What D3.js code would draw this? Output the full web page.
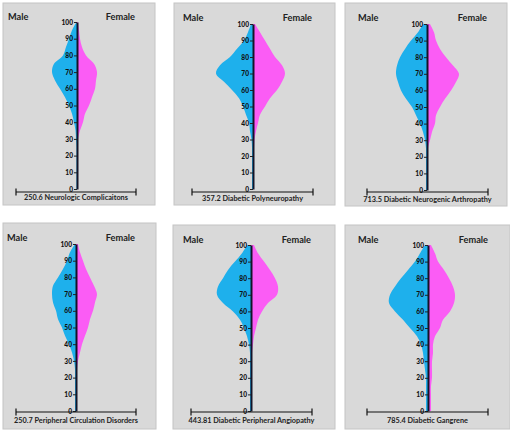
<!DOCTYPE html>
<html><head><meta charset="utf-8">
<script src="https://cdn.jsdelivr.net/npm/d3@7"></script>
<style>body{margin:0;background:#fff}svg{display:block}</style>
</head><body>
<script>
const ages = [0,5,10,15,20,25,30,35,40,45,50,55,60,65,70,75,80,85,90,95,100];
const yTicks = [0,10,20,30,40,50,60,70,80,90,100];
const titles = ["250.6 Neurologic Complicaitons","357.2 Diabetic Polyneuropathy","713.5 Diabetic Neurogenic Arthropathy",
  "250.7 Peripheral Circulation Disorders","443.81 Diabetic Peripheral Angiopathy","785.4 Diabetic Gangrene"];
const male1 =   [0.5,0.5,0.5,0.5,0.5,0.5,1,1.5,3,5,8,12,17,22,25,23,14,11,8,5,0.5];
const female1 = [0.5,0.5,0.5,0.5,0.5,0.5,1,3,6,8,12,15,18,19,20,17,9,5,3,2,1];
const male2 =   [1,1,1,1,1,1,1.5,3,4,7,10,14,21,29,37,33,23,16,9,5,2];
const female2 = [1,1,1,1,1,1,1.5,3,5,7,12,17,24,29,32,29,22,17,12,7,2];
const male3 =   [1,1,1,1,1,1,2,4,7,11,15,21,26,29,31,30,27,22,16,9,4];
const female3 = [1,1,1,1,1,1,3,5,8,9,13,18,24,29,32,26,19,13,9,7,3];
const male4 =   [1,1,1,1,1,1,2,4,7,11,14,18,20,23,24,23,18,13,9,6,1];
const female4 = [1,1,1,1,1,1,2,4,6,9,12,14,17,19,21,18,14,10,7,4,2];
const male5 =   [1,1,1,1,1,1,1,1,2,4,7,11,18,28,34,33,28,23,16,9,4];
const female5 = [1,1,1,1,1,1,1,1,2,3,5,7,11,17,26,27,24,19,13,7,3];
const male6 =   [2,2,2,2,2,3,4,5,7,11,18,25,33,39,38,33,27,20,13,8,3];
const female6 = [3,3,3,3,4,4,4,5,5,7,12,15,22,26,27,25,21,16,10,7,3];
const maleSeries = [male1,male2,male3,male4,male5,male6];
const femaleSeries = [female1,female2,female3,female4,female5,female6];

// layout: box, axis x, y of 0 and 100, bottom line
const layout = [
  {bx:3,by:3,bw:152,bh:202,ax:77,y0:189,y1:22,hy:192,hx1:16,hx2:136,ly:200,mx:8,fx:135,ty:20},
  {bx:174,by:3,bw:161,bh:202,ax:253,y0:189,y1:24,hy:192,hx1:192,hx2:313,ly:201,mx:183,fx:312,ty:21},
  {bx:345,by:3,bw:162,bh:203,ax:427,y0:190,y1:24,hy:192,hx1:367,hx2:488,ly:202,mx:358,fx:487,ty:21},
  {bx:3,by:223,bw:153,bh:206,ax:76,y0:411,y1:244,hy:412,hx1:16,hx2:136,ly:423,mx:7,fx:135,ty:241},
  {bx:173,by:225,bw:162,bh:204,ax:251,y0:411,y1:245,hy:412,hx1:191,hx2:312,ly:423,mx:183,fx:311,ty:243},
  {bx:345,by:225,bw:165,bh:204,ax:428,y0:411,y1:245,hy:412,hx1:367,hx2:488,ly:423,mx:358,fx:488,ty:243}
];

const svg = d3.select("body").append("svg").attr("width",510).attr("height",430);
const font = "Lato, 'Open Sans', sans-serif";

layout.forEach((L,i)=>{
  const g = svg.append("g");
  g.append("rect").attr("x",L.bx).attr("y",L.by).attr("width",L.bw).attr("height",L.bh)
    .attr("fill","#d9d9d9").attr("stroke","#c4c4c4").attr("stroke-width",1);
  const y = d3.scaleLinear().domain([0,100]).range([L.y0,L.y1]);
  const x = d3.scaleLinear().domain([-50,50]).range([L.ax-50,L.ax+50]);
  const male = ages.map((a,j)=>({a,v:maleSeries[i][j]}));
  const female = ages.map((a,j)=>({a,v:femaleSeries[i][j]}));
  const areaM = d3.area().y(d=>y(d.a)).x0(x(0)).x1(d=>x(-d.v)).curve(d3.curveCatmullRom);
  const areaF = d3.area().y(d=>y(d.a)).x0(x(0)).x1(d=>x(d.v)).curve(d3.curveCatmullRom);
  g.append("path").datum(male).attr("d",areaM).attr("fill","#1eb0ec");
  g.append("path").datum(female).attr("d",areaF).attr("fill","#fb5cf5");
  const ax = g.append("g").attr("transform",`translate(${L.ax},0)`)
    .call(d3.axisLeft(y).tickValues(yTicks).tickSize(3).tickSizeOuter(0).tickPadding(1));
  ax.select(".domain").attr("stroke","#141428").attr("stroke-width",2);
  ax.selectAll(".tick line").attr("stroke","#222").attr("stroke-width",1);
  ax.selectAll(".tick text").attr("font-family",font).attr("font-weight","900")
    .attr("font-size",6.6).attr("fill","#111");
  g.append("line").attr("x1",L.hx1).attr("x2",L.hx2).attr("y1",L.hy).attr("y2",L.hy)
    .attr("stroke","#111").attr("stroke-width",1.2);
  [L.hx1,L.hx2].forEach(xx=>g.append("line").attr("x1",xx).attr("x2",xx).attr("y1",L.hy-3.5).attr("y2",L.hy+3.5)
    .attr("stroke","#111").attr("stroke-width",1.2));
  g.append("text").attr("x",(L.hx1+L.hx2)/2).attr("y",L.ly).attr("text-anchor","middle")
    .attr("font-family",font).attr("font-weight","bold").attr("font-size",7.3).attr("fill","#222").text(titles[i]);
  g.append("text").attr("x",L.mx).attr("y",L.ty).attr("font-family",font).attr("font-weight","bold")
    .attr("font-size",9.2).attr("fill","#222").text("Male");
  g.append("text").attr("x",L.fx).attr("y",L.ty).attr("text-anchor","end").attr("font-family",font).attr("font-weight","bold")
    .attr("font-size",9.2).attr("fill","#222").text("Female");
});
</script>
</body></html>
